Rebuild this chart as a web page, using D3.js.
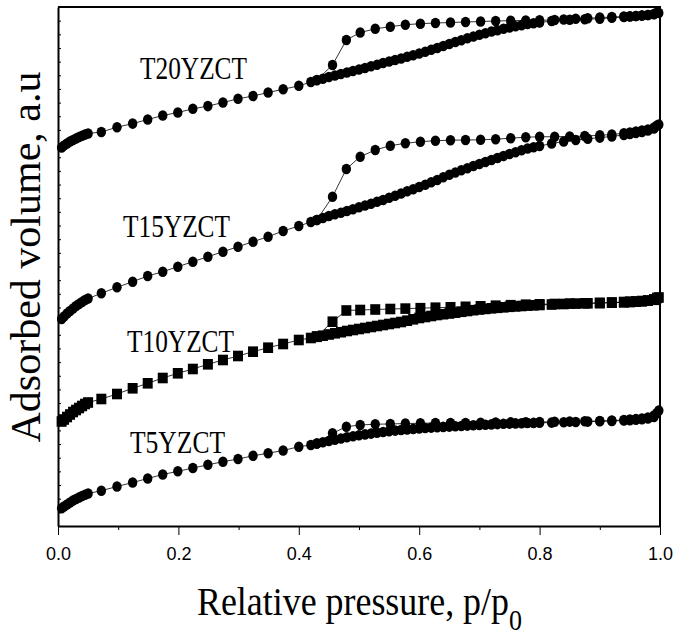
<!DOCTYPE html>
<html>
<head>
<meta charset="utf-8">
<script src="https://cdn.jsdelivr.net/npm/d3@7"></script>
<style>
  body { margin: 0; background: #fff; }
  svg { display: block; }
</style>
</head>
<body>
<div id="chart"></div>
<script>
// relative pressure points (adsorption branch, then desorption branch)
var adsP = [0.006, 0.010, 0.015, 0.020, 0.025, 0.030, 0.035, 0.040, 0.045, 0.050,
  0.072, 0.098, 0.124, 0.149, 0.174, 0.199, 0.224, 0.249, 0.274, 0.299, 0.324, 0.349, 0.374, 0.400,
  0.42, 0.43, 0.44, 0.45, 0.46, 0.47, 0.48, 0.49, 0.50, 0.51, 0.52, 0.53, 0.54, 0.55, 0.56, 0.57, 0.58, 0.59,
  0.60, 0.61, 0.62, 0.63, 0.64, 0.65, 0.66, 0.67, 0.68, 0.69, 0.70, 0.71, 0.72, 0.73, 0.74, 0.75, 0.76, 0.77,
  0.78, 0.79, 0.80,
  0.82, 0.84, 0.86, 0.88, 0.90, 0.92, 0.94, 0.95, 0.96, 0.97, 0.98, 0.99, 0.995];
var desP = [0.998, 0.99, 0.98, 0.97, 0.96, 0.95, 0.94, 0.92, 0.90, 0.875, 0.85, 0.825, 0.80, 0.777,
  0.752, 0.727, 0.702, 0.677, 0.652, 0.627, 0.602, 0.577, 0.552, 0.527, 0.502, 0.479, 0.456, 0.43];

// adsorbed volume (a.u., curves offset)
var t20Ads = [378.5, 380.5, 382.5, 384.5, 386, 387.5, 389, 390.2, 391.4, 392.5,
  394, 398.8, 402.4, 406.5, 410.5, 413.5, 417.2, 419.9, 423.5, 427.2, 430, 433.5, 436.7, 440.2,
  444, 445.7, 447.3, 449, 450.5, 452, 453.5, 455, 456.5, 458, 459.7, 461.3, 463, 464.5, 466, 467.5, 469.2, 470.8,
  472.5, 474.3, 476.2, 478, 480, 482, 484, 485.8, 487.7, 489.5, 491.2, 492.8, 494.5, 495.8, 497.2, 498.5, 499.7, 500.8,
  502, 502.8, 503.5,
  505, 506.5, 507.2, 507.8, 508.4, 509, 509.4, 509.7, 510, 510.4, 511, 511.8, 513.5];
var t20Des = [513, 512, 511, 510.5, 510, 509.5, 509, 508.2, 507.3, 506.7, 506.2, 506, 505.8, 505.5,
  505.3, 505, 504.5, 504, 503.5, 503, 502.3, 501.3, 499.3, 497.2, 493.5, 486, 461, 446];

var t15Ads = [207, 209.5, 212.5, 215, 217.5, 220, 222, 224, 226, 227.5,
  232.7, 238.7, 244.3, 250, 254.3, 259.3, 264.3, 269.3, 274.3, 279.3, 284.3, 289.3, 295, 300,
  304, 306, 308, 310, 311.7, 313.3, 315, 316.8, 318.7, 320.5, 322.3, 324.2, 326, 328.2, 330.3, 332.5, 334.7, 336.8,
  339, 341.3, 343.7, 346, 348.7, 351.2, 353.5, 355.7, 357.8, 360, 362, 364, 366, 368, 370, 372, 373.8, 375.7,
  377.5, 378.8, 380,
  382.5, 384.5, 386, 387.2, 388.4, 389.6, 391, 392, 393, 394, 395.5, 397.5, 400.5];
var t15Des = [401.5, 398.5, 396.5, 395.5, 394.5, 393.5, 392.7, 391.5, 390.7, 390, 389.5, 389.3, 389.2, 388.8,
  387.8, 386.8, 386.2, 386, 385.8, 385.3, 384.3, 382.7, 380.3, 376, 369.3, 357, 329.3, 306];

var t10Ads = [104.5, 106.5, 109, 111.5, 114, 116, 118, 120, 122, 123.5,
  127, 132, 137.7, 142.7, 148, 152.7, 157, 161.7, 166, 170, 174.3, 178.3, 182, 186,
  188, 189.2, 190.3, 191.5, 192.7, 193.8, 195, 196, 197, 198, 199, 200, 201, 202, 203, 204, 205.3, 206.7,
  208, 209, 210, 211, 211.8, 212.5, 213.3, 214.2, 215, 215.8, 216.5, 217.1, 217.7, 218.2, 218.7, 219.2, 219.6, 220,
  220.4, 220.7, 221,
  221.5, 222, 222.4, 222.7, 223, 223.3, 223.7, 224, 224.3, 224.7, 225.3, 226.2, 228];
var t10Des = [228.5, 226.5, 225.5, 225, 224.5, 224.2, 224, 223.5, 223, 222.7, 222.4, 222, 221.7, 221.3,
  220.8, 220.3, 219.7, 219.2, 218.7, 218.3, 217.8, 217.4, 217, 216.5, 216, 215.5, 204.3, 189.5];

var t5Ads = [17.7, 19.5, 21.5, 23.5, 25.5, 27, 28.5, 30, 31.3, 32.5,
  35.3, 39.5, 43.5, 47.5, 51.5, 54.7, 58, 61.2, 64.3, 67, 70.2, 72.8, 75.5, 79.3,
  81, 82.4, 83.7, 85, 86.3, 87.5, 88.7, 89.7, 90.7, 91.6, 92.4, 93.2, 94, 94.7, 95.4, 96, 96.6, 97.1,
  97.6, 98, 98.4, 98.8, 99.1, 99.4, 99.7, 100, 100.4, 100.7, 101, 101.3, 101.6, 101.9, 102.2, 102.4, 102.6, 102.8,
  103, 103.1, 103.2,
  103.4, 103.7, 104, 104.4, 104.7, 105, 105.5, 105.8, 106.2, 106.7, 107.5, 109, 113];
var t5Des = [115.5, 110.5, 108.5, 107.5, 107, 106.5, 106, 105.5, 105, 104.7, 104.4, 104.2, 104, 103.8,
  103.6, 103.4, 103.2, 103, 103, 103, 102.7, 102.5, 102, 101.8, 101, 99.3, 92.7, 82.5];

var sampleNames = ['T20YZCT', 'T15YZCT', 'T10YZCT', 'T5YZCT'];
var xMajorTicks = [0, 0.2, 0.4, 0.6, 0.8, 1.0];
var xMinorTicks = [0.1, 0.3, 0.5, 0.7, 0.9];
var yTickCount = 38;

var W = 680, H = 636;
var plotLeft = 58, plotRight = 660, plotTop = 7, plotBottom = 526;
var serif = '"Liberation Serif", "Times New Roman", Times, serif';

var x = d3.scaleLinear().domain([0, 1]).range([plotLeft, plotRight]);
var y = d3.scaleLinear().domain([0, 519]).range([plotBottom, plotTop]);

var svg = d3.select('#chart').append('svg').attr('width', W).attr('height', H);

var series = [
  {name: sampleNames[0], ads: t20Ads, des: t20Des, marker: 'circle', lx: 140, ly: 79, lw: 107},
  {name: sampleNames[1], ads: t15Ads, des: t15Des, marker: 'circle', lx: 123, ly: 237, lw: 107},
  {name: sampleNames[2], ads: t10Ads, des: t10Des, marker: 'square', lx: 127, ly: 352, lw: 107},
  {name: sampleNames[3], ads: t5Ads, des: t5Des, marker: 'circle', lx: 130, ly: 453, lw: 95}
];

var line = d3.line().x(function(d) { return x(d[0]); }).y(function(d) { return y(d[1]); });

series.forEach(function(s) {
  var ads = adsP.map(function(p, i) { return [p, s.ads[i]]; });
  var des = desP.map(function(p, i) { return [p, s.des[i]]; });
  var g = svg.append('g');
  [ads, des].forEach(function(branch) {
    g.append('path').datum(branch).attr('d', line)
      .attr('fill', 'none').attr('stroke', '#000').attr('stroke-width', 0.8);
  });
  var pts = ads.concat(des);
  if (s.marker === 'square') {
    g.selectAll('rect').data(pts).enter().append('rect')
      .attr('x', function(d) { return x(d[0]) - 5; })
      .attr('y', function(d) { return y(d[1]) - 5.3; })
      .attr('width', 10).attr('height', 10.6).attr('fill', '#000');
  } else {
    g.selectAll('ellipse').data(pts).enter().append('ellipse')
      .attr('cx', function(d) { return x(d[0]); })
      .attr('cy', function(d) { return y(d[1]); })
      .attr('rx', 4.7).attr('ry', 5.3).attr('fill', '#000');
  }
  svg.append('text').attr('x', s.lx).attr('y', s.ly)
    .attr('font-family', serif).attr('font-size', 31)
    .attr('textLength', s.lw).attr('lengthAdjust', 'spacingAndGlyphs')
    .attr('fill', '#000').text(s.name);
});

// axes
var xAxis = svg.append('g').attr('transform', 'translate(0,' + plotBottom + ')')
  .call(d3.axisBottom(x).tickValues(xMajorTicks).tickFormat(d3.format('.1f'))
    .tickSize(9).tickSizeOuter(0).tickPadding(12));
svg.append('g').attr('transform', 'translate(0,' + plotBottom + ')')
  .call(d3.axisBottom(x).tickValues(xMinorTicks).tickFormat('').tickSize(4).tickSizeOuter(0))
  .select('.domain').remove();
xAxis.selectAll('text').attr('font-family', '"Liberation Sans", Arial, sans-serif')
  .attr('font-size', 18).attr('fill', '#000');

var yTicks = d3.range(1, yTickCount).map(function(k) { return k * 519 / yTickCount; });
svg.append('g').attr('transform', 'translate(' + plotLeft + ',0)')
  .call(d3.axisLeft(y).tickValues(yTicks).tickFormat('').tickSizeInner(-3).tickSizeOuter(0));

svg.selectAll('.tick line').attr('stroke', '#000').attr('stroke-width', 1);
svg.selectAll('.domain').attr('stroke', '#000').attr('stroke-width', 2);

// top and right frame
svg.append('path').attr('d', 'M' + plotLeft + ',' + plotTop + 'H' + plotRight + 'V' + plotBottom)
  .attr('fill', 'none').attr('stroke', '#000').attr('stroke-width', 2);

// titles
svg.append('text').attr('transform', 'translate(40,257) rotate(-90)')
  .attr('text-anchor', 'middle').attr('font-family', serif).attr('font-size', 42)
  .attr('fill', '#000').text('Adsorbed volume, a.u');
var xTitle = svg.append('text').attr('x', 197).attr('y', 615)
  .attr('font-family', serif).attr('font-size', 40).attr('fill', '#000');
xTitle.append('tspan').attr('textLength', 312).attr('lengthAdjust', 'spacingAndGlyphs')
  .text('Relative pressure, p/p');
xTitle.append('tspan').attr('dy', 15).attr('font-size', 30)
  .attr('textLength', 13).attr('lengthAdjust', 'spacingAndGlyphs').text('0');
</script>
</body>
</html>
